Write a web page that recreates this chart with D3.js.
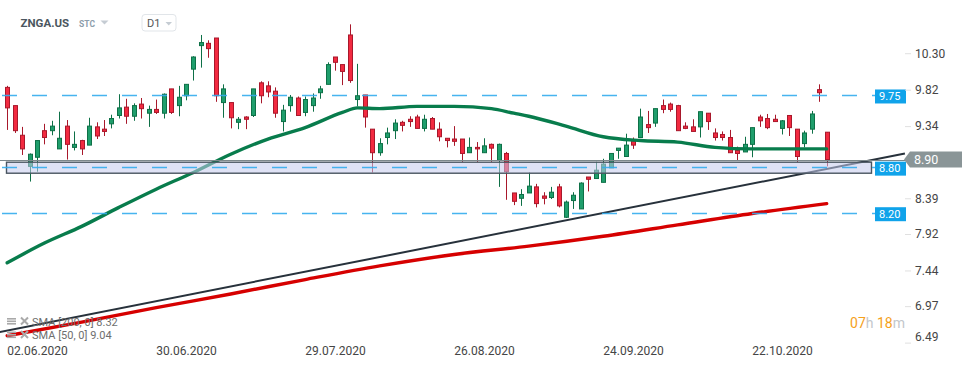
<!DOCTYPE html>
<html><head><meta charset="utf-8">
<script src="https://cdn.jsdelivr.net/npm/d3@7"></script>
<style>
body{margin:0;background:#fff;}
svg{display:block;font-family:Roboto,"Noto Sans",sans-serif;}
</style>
</head><body>
<svg id="c" width="974" height="368"></svg>
<script>
// ---- data ----
const openV  = [9.85,9.61,9.22,8.81,8.93,9.28,9.28,9.04,9.34,9.06,9.15,9.09,9.33,9.30,9.37,9.48,9.59,9.47,9.63,9.51,
                9.56,9.51,9.83,9.61,9.74,10.09,10.40,10.43,10.50,9.65,9.65,9.39,9.46,9.48,9.91,9.87,9.80,9.40,9.61,9.71,
                9.52,9.61,9.78,9.89,10.25,10.15,10.54,9.69,9.75,9.30,8.99,9.19,9.28,9.39,9.43,9.46,9.31,9.44,9.30,9.18,
                9.17,9.17,8.99,9.06,8.99,9.10,8.89,8.98,8.46,8.39,8.46,8.54,8.42,8.40,8.54,8.14,8.36,8.25,8.67,8.65,
                8.60,8.79,9.02,8.94,9.14,9.19,9.36,9.38,9.61,9.63,9.61,9.34,9.33,9.33,9.51,9.25,9.23,9.19,9.02,9.00,
                9.10,9.46,9.44,9.43,9.31,9.48,9.30,9.11,9.30,9.82,9.26];
const highV  = [9.87,9.61,9.33,8.98,9.15,9.37,9.41,9.53,9.42,9.27,9.16,9.45,9.39,9.42,9.49,9.76,9.70,9.64,9.71,9.61,
                9.69,9.77,9.83,9.87,9.89,10.26,10.54,10.47,10.50,9.89,9.65,9.46,9.47,9.83,9.93,9.93,9.85,9.62,9.75,9.73,
                9.73,9.77,9.87,10.18,10.25,10.15,10.68,10.16,9.75,9.30,9.18,9.32,9.43,9.41,9.47,9.49,9.49,9.46,9.39,9.18,
                9.34,9.17,9.19,9.13,9.18,9.11,9.11,9.00,8.46,8.51,8.73,8.58,8.47,8.54,8.58,8.36,8.47,8.60,8.67,8.87,
                8.91,8.98,9.05,9.24,9.19,9.57,9.54,9.57,9.69,9.65,9.62,9.39,9.43,9.53,9.51,9.31,9.27,9.29,9.07,9.20,
                9.32,9.49,9.50,9.49,9.42,9.48,9.30,9.28,9.54,9.89,9.26];
const lowV   = [9.29,9.25,8.96,8.61,8.74,9.10,9.22,9.04,8.90,9.02,8.96,9.09,9.17,9.21,9.31,9.44,9.37,9.41,9.44,9.33,
                9.50,9.44,9.50,9.47,9.68,9.94,10.11,10.24,9.66,9.45,9.31,9.30,9.30,9.46,9.64,9.72,9.45,9.27,9.53,9.48,
                9.47,9.53,9.70,9.89,10.07,9.88,9.91,9.60,9.32,8.73,8.95,9.10,9.17,9.27,9.33,9.31,9.27,9.30,9.14,9.06,
                9.08,8.87,8.99,8.87,8.99,8.87,8.54,8.37,8.30,8.29,8.46,8.27,8.31,8.38,8.27,8.13,8.25,8.25,8.48,8.65,
                8.60,8.79,8.91,8.94,9.04,9.19,9.25,9.33,9.51,9.53,9.28,9.30,9.27,9.19,9.29,9.15,9.15,8.99,8.89,9.00,
                8.93,9.33,9.30,9.40,9.23,9.21,8.87,9.06,9.24,9.66,8.81];
const closeV = [9.58,9.28,9.04,8.97,9.15,9.19,9.34,9.18,9.10,9.10,9.04,9.34,9.21,9.27,9.44,9.58,9.47,9.61,9.57,9.56,
                9.52,9.76,9.52,9.72,9.89,10.25,10.44,10.36,9.74,9.83,9.45,9.43,9.43,9.83,9.74,9.79,9.51,9.55,9.72,9.48,
                9.69,9.71,9.83,10.15,10.18,10.06,9.94,9.74,9.46,8.99,9.11,9.25,9.38,9.35,9.40,9.31,9.43,9.30,9.20,9.15,
                9.14,8.98,9.06,9.04,9.08,9.05,9.10,8.74,8.35,8.44,8.55,8.32,8.39,8.47,8.29,8.34,8.43,8.59,8.64,8.76,
                8.84,8.98,9.05,9.09,9.09,9.46,9.32,9.57,9.56,9.56,9.28,9.31,9.27,9.53,9.40,9.19,9.19,8.99,8.98,9.10,
                9.32,9.41,9.32,9.40,9.41,9.32,8.94,9.25,9.50,9.78,8.90];

const startDate = "2020-05-27";
const holidays = ["2020-07-03","2020-09-07"];
const xTickLabels = ["02.06.2020","30.06.2020","29.07.2020","26.08.2020","24.09.2020","22.10.2020"];
const yTickValues = [10.30,9.82,9.34,8.39,7.92,7.44,6.97,6.49];

const sma50Idx = [0,5,10,15,20,25,30,35,40,45,47,50,55,60,65,68,70,75,80,85,90,95,100,105,110];
const sma50    = [7.54,7.80,8.02,8.27,8.51,8.73,8.97,9.17,9.32,9.52,9.58,9.57,9.60,9.60,9.57,9.51,9.47,9.34,9.20,9.15,9.13,9.06,9.04,9.04,9.04];
const sma200Idx = [0,10,20,30,40,50,60,70,80,90,100,110];
const sma200    = [6.58,6.76,6.95,7.13,7.32,7.50,7.65,7.76,7.89,8.04,8.19,8.32];

const trendIdx = [-1, 120.5];
const trendVal = [6.63, 8.98];
const levels = [9.75, 8.80, 8.20];
const zoneRange = [8.72, 8.865];
const lastPrice = 8.90;
const legendItems = ["SMA [200, 0] 8.32", "SMA [50, 0] 9.04"];

// ---- trading dates ----
const dates = [];
{
  let d = new Date(startDate + "T00:00:00Z");
  while (dates.length < closeV.length) {
    const iso = d.toISOString().slice(0,10);
    const wd = d.getUTCDay();
    if (wd !== 0 && wd !== 6 && !holidays.includes(iso)) {
      dates.push(iso.slice(8,10) + "." + iso.slice(5,7) + "." + iso.slice(0,4));
    }
    d = new Date(d.getTime() + 86400000);
  }
}
const candles = closeV.map((c,i)=>({i, o:openV[i], h:highV[i], l:lowV[i], c}));

// ---- scales ----
const x = d3.scaleLinear().domain([0, closeV.length-1]).range([7.2, 826.7]);
const y = d3.scaleLinear().domain([6.49, 10.30]).range([342.6, 53.2]);
const svg = d3.select("#c");

const GREEN_F = "#1f9e6c", GREEN_S = "#0e7047";
const RED_F = "#f22a40", RED_S = "#a8182b";

// ---- candles ----
const cg = svg.append("g");
candles.forEach(d=>{
  const cx = Math.round(x(d.i));
  const up = d.c >= d.o;
  const s = up ? GREEN_S : RED_S, f = up ? GREEN_F : RED_F;
  cg.append("line").attr("x1",cx+0.5).attr("x2",cx+0.5)
    .attr("y1",y(d.h)).attr("y2",y(d.l)).attr("stroke",s).attr("stroke-width",1);
  const top = y(Math.max(d.o,d.c)), bot = y(Math.min(d.o,d.c));
  cg.append("rect").attr("x",cx-1.5).attr("width",4)
    .attr("y",top).attr("height",Math.max(1,bot-top))
    .attr("fill",f).attr("stroke",s).attr("stroke-width",1);
});

// ---- moving averages ----
const line = d3.line().curve(d3.curveMonotoneX);
svg.append("path").attr("d", line(sma200Idx.map((k,j)=>[x(k), y(sma200[j])])))
  .attr("fill","none").attr("stroke","#d60000").attr("stroke-width",3.4).attr("stroke-linecap","round");
svg.append("path").attr("d", line(sma50Idx.map((k,j)=>[x(k), y(sma50[j])])))
  .attr("fill","none").attr("stroke","#087c4c").attr("stroke-width",3.4).attr("stroke-linecap","round");

// ---- trendline ----
svg.append("line")
  .attr("x1",x(trendIdx[0])).attr("y1",y(trendVal[0]))
  .attr("x2",x(trendIdx[1])).attr("y2",y(trendVal[1]))
  .attr("stroke","#27313b").attr("stroke-width",2);

// ---- zone box ----
svg.append("rect").attr("x",6.5).attr("width",865)
  .attr("y",y(zoneRange[1])).attr("height",y(zoneRange[0])-y(zoneRange[1]))
  .attr("fill","rgba(196,202,236,0.55)").attr("stroke","#4a5661").attr("stroke-width",1.4);

// ---- last price line ----
svg.append("line").attr("x1",0).attr("x2",905)
  .attr("y1",Math.round(y(lastPrice))+0.5).attr("y2",Math.round(y(lastPrice))+0.5)
  .attr("stroke","#7d888c").attr("stroke-width",1);

// ---- level dashed lines + labels ----
levels.forEach(v=>{
  const yy = Math.round(y(v))+0.5;
  svg.append("line").attr("x1",2).attr("x2",875).attr("y1",yy).attr("y2",yy)
    .attr("stroke","#34acee").attr("stroke-width",1.3).attr("stroke-dasharray","15,15").attr("opacity",0.9);
  svg.append("rect").attr("x",875).attr("width",31).attr("y",y(v)-5.5).attr("height",14).attr("fill","#10a3ea");
  svg.append("text").attr("x",879).attr("y",y(v)+1.5).attr("dy","0.35em")
    .attr("fill","#fff").attr("font-size",11).text(d3.format(".2f")(v));
});

// ---- y axis ----
const ya = svg.append("g").attr("transform","translate(905,0)")
  .call(d3.axisRight(y).tickValues(yTickValues).tickSize(6).tickPadding(4).tickFormat(d3.format(".2f")));
ya.select(".domain").remove();
ya.selectAll(".tick line").attr("stroke","#e0e0e0");
ya.selectAll(".tick text").attr("fill","#454545").attr("font-size",12)
  .attr("font-family","Roboto,'Noto Sans',sans-serif")
  .attr("transform", v => y(v) > 337 ? `translate(0,${337 - y(v)})` : null);

// ---- price tag ----
const py = y(lastPrice);
svg.append("path")
  .attr("d",`M904,${py} L910,${py-8} L962,${py-8} L962,${py+8} L910,${py+8} Z`)
  .attr("fill","#8a9597");
svg.append("text").attr("x",914).attr("y",py).attr("dy","0.36em")
  .attr("fill","#fff").attr("font-size",12.5).text(d3.format(".2f")(lastPrice));

// ---- x axis ----
const tickIdx = xTickLabels.map(l=>dates.indexOf(l));
const xa = svg.append("g").attr("transform","translate(0,340)")
  .call(d3.axisBottom(x).tickValues(tickIdx).tickSize(0).tickPadding(6.5).tickFormat(i=>dates[i]));
xa.select(".domain").remove();
xa.selectAll(".tick text").attr("fill","#454545").attr("font-size",12)
  .attr("font-family","Roboto,'Noto Sans',sans-serif");

// ---- countdown ----
const cd = svg.append("text").attr("x",905).attr("y",328).attr("text-anchor","end").attr("font-size",14);
cd.append("tspan").attr("fill","#f5a11c").text("07");
cd.append("tspan").attr("fill","#c3c7cb").text("h ");
cd.append("tspan").attr("fill","#f5a11c").text("18");
cd.append("tspan").attr("fill","#c3c7cb").text("m");

// ---- legend ----
legendItems.forEach((t,j)=>{
  const by = 325.5 + j*13.5;
  const g = svg.append("g");
  g.append("rect").attr("x",7).attr("y",by-7.5).attr("width",9).attr("height",1.6).attr("fill","#a9a9a9");
  g.append("rect").attr("x",7).attr("y",by-5).attr("width",9).attr("height",1.6).attr("fill","#a9a9a9");
  g.append("rect").attr("x",7).attr("y",by-2.5).attr("width",9).attr("height",1.6).attr("fill","#a9a9a9");
  g.append("path").attr("d",`M21,${by-8} L28,${by-1} M28,${by-8} L21,${by-1}`)
    .attr("stroke","#a9a9a9").attr("stroke-width",2);
  g.append("text").attr("x",32).attr("y",by).attr("font-size",11).attr("fill","#6e6e6e").text(t);
});

// ---- header ----
svg.append("text").attr("x",20.5).attr("y",27.3).attr("font-size",11.5).attr("font-weight","bold")
  .attr("fill","#4b5660").text("ZNGA.US");
svg.append("text").attr("x",79).attr("y",26.8).attr("font-size",8.5).attr("font-weight","bold")
  .attr("fill","#8d9dab").text("STC");
svg.append("path").attr("d","M100.5,20.5 L108.5,20.5 L104.5,24.5 Z").attr("fill","#c5ccd3");
svg.append("rect").attr("x",142).attr("y",14.5).attr("width",34).attr("height",16.5).attr("rx",3)
  .attr("fill","#fff").attr("stroke","#e1e5e9");
svg.append("text").attr("x",147).attr("y",27).attr("font-size",11).attr("fill","#555").text("D1");
svg.append("path").attr("d","M165.5,22 L172,22 L168.75,25.5 Z").attr("fill","#c5ccd3");
</script>
</body></html>
